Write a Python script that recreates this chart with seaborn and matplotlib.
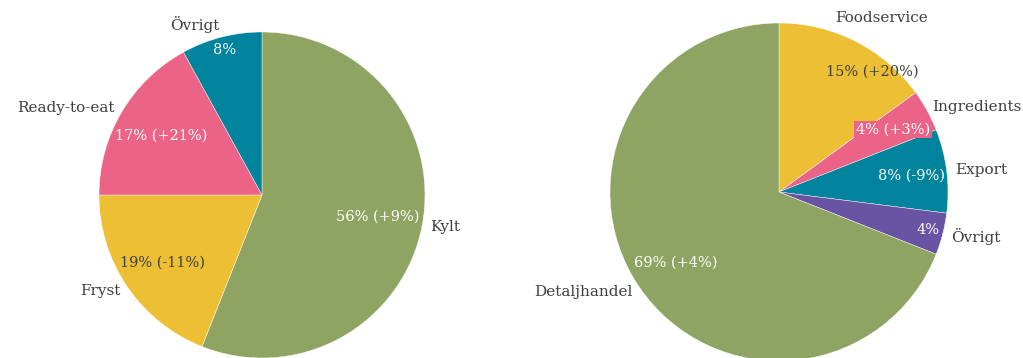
import numpy as np
import seaborn as sns
import matplotlib
matplotlib.use("Agg")
import matplotlib.pyplot as plt

# data
left_labels = ["Kylt", "Fryst", "Ready-to-eat", "Övrigt"]
left_share = [56, 19, 17, 8]
left_change = ["+9%", "-11%", "+21%", None]

right_labels = ["Foodservice", "Ingredients", "Export", "Övrigt", "Detaljhandel"]
right_share = [15, 4, 8, 4, 69]
right_change = ["+20%", "+3%", "-9%", None, "+4%"]

GREEN = "#8fa462"
YELLOW = "#ecbf34"
PINK = "#eb6387"
TEAL = "#00839c"
PURPLE = "#6953a3"
TEXT = "#3f3f3f"

left_colors = [GREEN, YELLOW, PINK, TEAL]
right_colors = [YELLOW, PINK, TEAL, PURPLE, GREEN]

sns.set_theme(style="white")
plt.rcParams["font.family"] = ["DejaVu Serif"]

# layout tweaks per label (radius factor, angle shift in degrees, px offsets)
left_pct_r = [0.72, 0.74, 0.72, 0.92]
left_lab_shift = [(0, 0), (0, 0), (0, 0), (0, 5)]
right_pct_r = [0.9, 0.77, 0.79, 0.91, 0.74]
right_pct_shift = [-11, 0, 0, 0, 0]
right_lab_shift = [(-24, 16), (-2, 0), (0, 0), (0, 0), (0, 0)]


def draw_pie(ax, labels, share, change, colors, pct_r, pct_shift=None, lab_shift=None):
    wedges, _ = ax.pie(share, colors=colors, startangle=90, counterclock=False,
                       wedgeprops=dict(edgecolor="white", linewidth=0.3))
    for i, w in enumerate(wedges):
        mid = (w.theta1 + w.theta2) / 2
        a = np.deg2rad(mid + (pct_shift[i] if pct_shift else 0))
        txt = f"{share[i]}%" + (f" ({change[i]})" if change[i] else "")
        col = TEXT if colors[i] == YELLOW else "white"
        bbox = None
        if share[i] == 4 and change[i]:
            bbox = dict(boxstyle="square,pad=0.12", fc=colors[i], ec="none")
        ax.text(pct_r[i] * np.cos(a), pct_r[i] * np.sin(a), txt, ha="center",
                va="center", color=col, fontsize=10.5, bbox=bbox, clip_on=False)
        am = np.deg2rad(mid)
        x, y = 1.05 * np.cos(am), 1.05 * np.sin(am)
        ha = "left" if x > 0 else "right"
        if lab_shift:
            dx, dy = lab_shift[i]
            x, y = x + dx / 165, y + dy / 165
        ax.text(x, y, labels[i], ha=ha, va="center", color=TEXT,
                fontsize=11, clip_on=False)
    ax.set_xlim(-1, 1)
    ax.set_ylim(-1, 1)
    ax.set_aspect("equal")
    ax.axis("off")


fig = plt.figure(figsize=(10.23, 3.58), dpi=100)
ax1 = fig.add_axes([99 / 1023, 0 / 358, 326 / 1023, 326 / 358])
ax2 = fig.add_axes([610 / 1023, -3 / 358, 338 / 1023, 338 / 358])

draw_pie(ax1, left_labels, left_share, left_change, left_colors, left_pct_r,
         lab_shift=left_lab_shift)
draw_pie(ax2, right_labels, right_share, right_change, right_colors, right_pct_r,
         right_pct_shift, right_lab_shift)

fig.savefig("out.png", dpi=100)
